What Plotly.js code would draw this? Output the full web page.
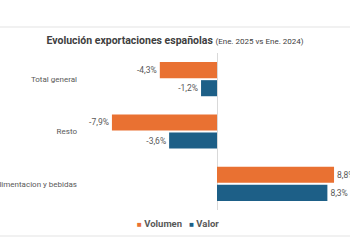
<!DOCTYPE html>
<html>
<head>
<meta charset="utf-8">
<script src="https://cdn.plot.ly/plotly-3.0.1.min.js"></script>
<style>html,body{margin:0;padding:0;background:#fff;}#chart{width:350px;height:250px;}</style>
</head>
<body>
<div id="chart"></div>
<script>
const categories = ["Total general", "Resto", "Alimentacion y bebidas"];
const volumen = [-4.3, -7.9, 8.8];
const valor = [-1.2, -3.6, 8.3];
const seriesNames = ["Volumen", "Valor"];
const seriesColors = ["#E97132", "#1D5F87"];

const textFont = {family: "Roboto, 'Open Sans', sans-serif", size: 8.5, color: "#595959"};

const traces = [
  {
    type: "bar", orientation: "h", name: seriesNames[0],
    y: categories, x: volumen,
    marker: {color: seriesColors[0]},
    texttemplate: "%{x:.1f}%", textposition: "outside", cliponaxis: false,
    textfont: textFont, hoverinfo: "skip"
  },
  {
    type: "bar", orientation: "h", name: seriesNames[1],
    y: categories, x: valor,
    marker: {color: seriesColors[1]},
    texttemplate: "%{x:.1f}%", textposition: "outside", cliponaxis: false,
    textfont: textFont, hoverinfo: "skip"
  }
];

const legendText = seriesNames.map((n, i) =>
  "<span style='color:" + seriesColors[i] + ";font-size:8px'>■</span> <b>" + n + "</b>"
).join("   ");

const layout = {
  width: 350, height: 250,
  margin: {l: 84, r: 0, t: 53, b: 40},
  paper_bgcolor: "#ffffff", plot_bgcolor: "#ffffff",
  separators: ",.",
  font: {family: "Roboto, 'Open Sans', sans-serif", color: "#595959"},
  barmode: "group", bargap: 0.31, bargroupgap: 0.11,
  title: {
    text: "<b>Evolución exportaciones españolas</b> <span style='font-size:8px;font-weight:normal'>(Ene. 2025 vs Ene. 2024)</span>",
    font: {size: 10.5, color: "#404040", family: "Roboto, 'Open Sans', sans-serif"},
    xref: "container", x: 0.5, xanchor: "center",
    yref: "container", y: 1 - 40/250, yanchor: "middle"
  },
  xaxis: {
    range: [-10, 10], showgrid: false, showticklabels: false, ticks: "",
    zeroline: true, zerolinecolor: "#d9d9d9", zerolinewidth: 1, showline: false, fixedrange: true
  },
  yaxis: {
    autorange: "reversed", showgrid: false, ticks: "", showline: false, zeroline: false,
    tickfont: {size: 8, color: "#595959"}, ticklabelstandoff: 6
  },
  showlegend: false,
  annotations: [
    {
      text: legendText, showarrow: false,
      xref: "paper", x: (178 - 84) / 266, xanchor: "center",
      yref: "paper", y: (210 - 223) / 157, yanchor: "middle",
      font: {size: 9.5, color: "#595959", family: "Roboto, 'Open Sans', sans-serif"}
    }
  ],
  shapes: [
    {type: "line", xref: "paper", yref: "paper", x0: -0.32, x1: 1.0, y0: (210-27)/157, y1: (210-27)/157, line: {color: "#e3e3e3", width: 1}},
    {type: "line", xref: "paper", yref: "paper", x0: -0.32, x1: 1.0, y0: (210-236)/157, y1: (210-236)/157, line: {color: "#e3e3e3", width: 1}}
  ]
};

Plotly.newPlot("chart", traces, layout, {displayModeBar: false, staticPlot: true});
</script>
</body>
</html>
